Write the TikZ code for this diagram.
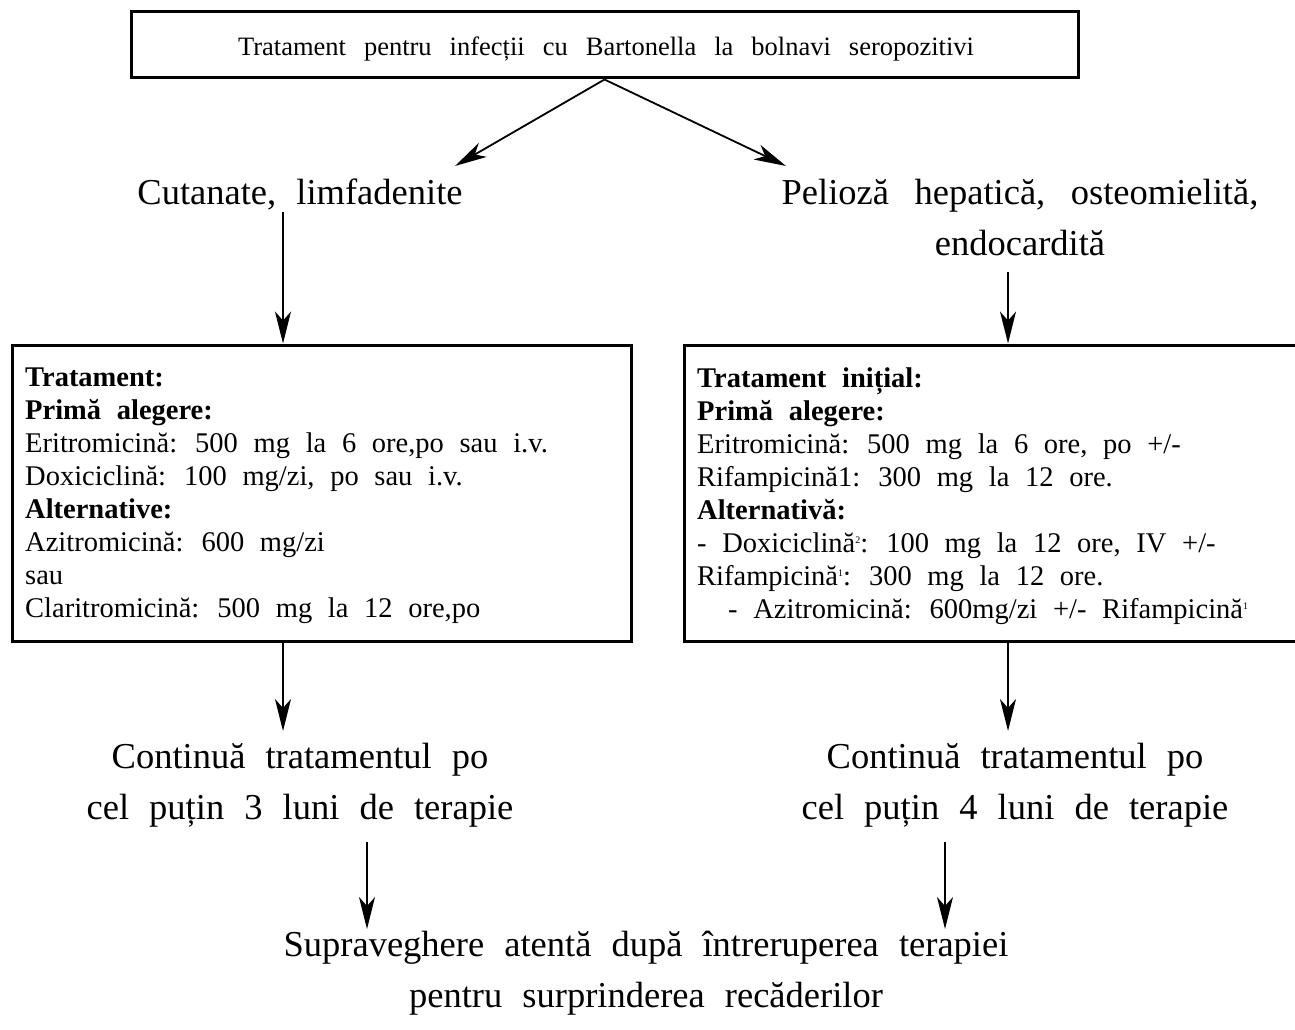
\documentclass[tikz,border=0pt]{standalone}
\usepackage{fontspec}
\setmainfont{Liberation Serif}[WordSpace=2.2]
\usetikzlibrary{arrows.meta}
% tiny raised footnote number
\newcommand{\supnum}[1]{\raisebox{9pt}{\fontsize{10}{10}\selectfont #1}}
\begin{document}
\begin{tikzpicture}[x=1pt,y=-1pt,
  frame/.style={draw, line width=3pt, inner sep=0pt},
  link/.style={line width=1.8pt, -{Stealth[length=32pt,width=16pt,inset=9pt]}},
  big/.style={font=\fontsize{36.5}{51}\selectfont, align=center, inner sep=0pt},
  boxtext/.style={font=\fontsize{28.5}{33}\selectfont, align=left, inner sep=0pt, anchor=north west},
]
\useasboundingbox (0,0) rectangle (1295,1030);

% title box
\node[frame, minimum width=947pt, minimum height=66pt] (top) at (604.5,45) {};
\node[font={\fontsize{26.5}{30}\selectfont\spaceskip=0.68em\relax}, anchor=base, inner sep=0pt] (title) at (606,56)
  {Tratament pentru infecții cu Bartonella la bolnavi seropozitivi};

% two branches
\node[big, anchor=north] (cut) at (300,179) {Cutanate, limfadenite};
\node[big, anchor=north, font={\fontsize{36.5}{51}\selectfont\spaceskip=0.7em\relax}] (pel) at (1020,179)
  {Pelioză hepatică, osteomielită,\\ endocardită};
\coordinate (tipL) at (455,166);
\coordinate (tipR) at (786,166);
\draw[link] (top.south) -- (tipL);
\draw[link] (top.south) -- (tipR);

% treatment boxes
\node[frame, minimum width=619pt, minimum height=296pt] (lbox) at (321.5,493) {};
\node[frame, minimum width=615pt, minimum height=296pt] (rbox) at (991.5,493) {};

\node[boxtext] (ltext) at (25,368) {\textbf{Tratament:}\\
  \textbf{Primă alegere:}\\
  Eritromicină: 500 mg la 6 ore,po sau i.v.\\
  Doxiciclină: 100 mg/zi, po sau i.v.\\
  \textbf{Alternative:}\\
  Azitromicină: 600 mg/zi\\
  sau\\
  Claritromicină: 500 mg la 12 ore,po};

\node[boxtext] (rtext) at (697,368) {\textbf{Tratament inițial:}\\
  \textbf{Primă alegere:}\\
  Eritromicină: 500 mg la 6 ore, po +/-\\
  Rifampicină1: 300 mg la 12 ore.\\
  \textbf{Alternativă:}\\
  - Doxiciclină\supnum{2}: 100 mg la 12 ore, IV +/-\\
  Rifampicină\supnum{1}: 300 mg la 12 ore.\\
  \hspace*{31pt}- Azitromicină: 600mg/zi +/- Rifampicină\supnum{1}};

\coordinate (cutfoot) at (283,212);
\coordinate (pelfoot) at (1008,272);
\draw[link] (cutfoot) -- (cutfoot |- lbox.north);
\draw[link] (pelfoot) -- (pelfoot |- rbox.north);

% continuation
\node[big, anchor=north] (lcont) at (300,743) {Continuă tratamentul po\\ cel puțin 3 luni de terapie};
\node[big, anchor=north] (rcont) at (1015,743) {Continuă tratamentul po\\ cel puțin 4 luni de terapie};
\draw[link, shorten >=12pt] (lbox.south -| cutfoot) -- (lcont.north -| cutfoot);
\draw[link, shorten >=12pt] (rbox.south -| pelfoot) -- (rcont.north -| pelfoot);

% follow-up
\node[big, anchor=north] (watch) at (646,931) {Supraveghere atentă după întreruperea terapiei\\ pentru surprinderea recăderilor};
\coordinate (lsrc) at (367,842);
\coordinate (rsrc) at (945,842);
\draw[link, shorten >=2pt] (lsrc) -- (lsrc |- watch.north);
\draw[link, shorten >=2pt] (rsrc) -- (rsrc |- watch.north);
\end{tikzpicture}
\end{document}
